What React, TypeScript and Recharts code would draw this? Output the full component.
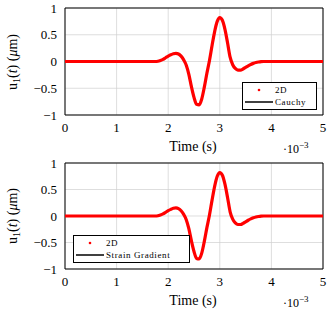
import React from "react";
import {
  LineChart,
  Line,
  XAxis,
  YAxis,
  CartesianGrid,
  ReferenceArea,
} from "recharts";

// time in units of 10^-3 s
const times = [
  0, 0.5, 1, 1.5, 1.75, 1.8, 1.85, 1.9, 1.95, 2.0, 2.05, 2.1, 2.15, 2.2, 2.25,
  2.3, 2.35, 2.4, 2.45, 2.5, 2.55, 2.6, 2.65, 2.7, 2.75, 2.8, 2.85, 2.9, 2.95,
  3.0, 3.05, 3.1, 3.15, 3.2, 3.25, 3.3, 3.35, 3.4, 3.45, 3.5, 3.55, 3.6, 3.65,
  3.7, 3.75, 3.8, 3.85, 4, 4.5, 5,
];
const u2D = [
  0, 0, 0, 0, 0, 0.005, 0.02, 0.04, 0.07, 0.1, 0.125, 0.145, 0.152, 0.14, 0.1,
  0.03, -0.07, -0.24, -0.47, -0.67, -0.8, -0.81, -0.7, -0.48, -0.22, 0.02, 0.3,
  0.56, 0.75, 0.82, 0.77, 0.6, 0.35, 0.08, -0.06, -0.13, -0.16, -0.16, -0.14,
  -0.11, -0.08, -0.055, -0.035, -0.02, -0.01, -0.003, 0, 0, 0, 0,
];
// reference solutions overlap the 2D result
const uCauchy = u2D.slice();
const uStrain = u2D.slice();

const xTicks = [0, 1, 2, 3, 4, 5];
const yTicks = [-1, -0.5, 0, 0.5, 1];

const serif = "'Liberation Serif', 'DejaVu Serif', serif";

const makeData = (ref: number[]) =>
  times.map((t, i) => ({ t, d2: u2D[i], ref: ref[i] }));

const fmt = (v: number) => String(v).replace("-", "\u2212");

const LegendBox = ({ label, width }: { label: string; width: number }) => (
  <div
    style={{
      width,
      border: "1px solid #000",
      background: "#fff",
      fontFamily: serif,
      fontSize: 9,
      letterSpacing: 0.6,
      padding: "1px 0",
      lineHeight: "12px",
    }}
  >
    <div style={{ display: "flex", alignItems: "center" }}>
      <svg width={32} height={12}>
        <circle cx={16} cy={6} r={1.3} fill="#ff0000" />
      </svg>
      <span>2D</span>
    </div>
    <div style={{ display: "flex", alignItems: "center" }}>
      <svg width={32} height={12}>
        <line x1={2} x2={30} y1={6} y2={6} stroke="#000" strokeWidth={1.5} />
      </svg>
      <span>{label}</span>
    </div>
  </div>
);

const Panel = ({
  top,
  plotTop,
  plotBottom,
  refData,
  label,
  legendPos,
  legendWidth,
}: {
  top: number;
  plotTop: number;
  plotBottom: number;
  refData: number[];
  label: string;
  legendPos: { left: number; top: number };
  legendWidth: number;
}) => {
  const h = 157;
  const axisH = 22;
  return (
    <div style={{ position: "absolute", left: 0, top, width: 332, height: h }}>
      <LineChart
        width={332}
        height={h}
        data={makeData(refData)}
        margin={{ top: plotTop, right: 9, left: 0, bottom: h - plotBottom - axisH }}
      >
        <CartesianGrid stroke="#d0d0d0" strokeWidth={0.7} />
        <XAxis
          dataKey="t"
          type="number"
          domain={[0, 5]}
          ticks={xTicks}
          interval={0}
          height={axisH}
          tickLine={false}
          axisLine={false}
          tick={{ fill: "#000", fontSize: 13, fontFamily: serif }}
          tickMargin={2}
        />
        <YAxis
          type="number"
          domain={[-1, 1]}
          ticks={yTicks}
          interval={0}
          width={65}
          tickLine={false}
          axisLine={false}
          tickFormatter={fmt}
          tick={{ fill: "#000", fontSize: 13, fontFamily: serif }}
          tickMargin={2}
        />
        <ReferenceArea
          x1={0}
          x2={5}
          y1={-1}
          y2={1}
          stroke="#000"
          strokeWidth={1}
          fill="none"
          fillOpacity={0}
        />
        <Line
          dataKey="ref"
          type="monotone"
          stroke="#000"
          strokeWidth={1}
          dot={false}
          isAnimationActive={false}
        />
        <Line
          dataKey="d2"
          type="monotone"
          stroke="#ff0000"
          strokeWidth={3.2}
          dot={false}
          isAnimationActive={false}
        />
      </LineChart>
      <div style={{ position: "absolute", left: legendPos.left, top: legendPos.top }}>
        <LegendBox label={label} width={legendWidth} />
      </div>
      <div
        style={{
          position: "absolute",
          left: 13 - 50,
          top: (plotTop + plotBottom) / 2 - 9,
          width: 100,
          height: 18,
          transform: "rotate(-90deg)",
          textAlign: "center",
          fontFamily: serif,
          fontSize: 14,
          lineHeight: "18px",
          whiteSpace: "nowrap",
        }}
      >
        u<span style={{ fontSize: 10, position: "relative", top: 3 }}>1</span>(<i>t</i>) (<i>μ</i>m)
      </div>
      <div
        style={{
          position: "absolute",
          left: 143,
          width: 100,
          top: plotBottom + 23,
          textAlign: "center",
          fontFamily: serif,
          fontSize: 14,
          lineHeight: "18px",
        }}
      >
        Time (s)
      </div>
      <div
        style={{
          position: "absolute",
          left: 283,
          top: plotBottom + 26,
          fontFamily: serif,
          fontSize: 12,
          lineHeight: "16px",
          whiteSpace: "nowrap",
        }}
      >
        ·10<sup style={{ fontSize: 9, lineHeight: 0, verticalAlign: "5px" }}>−3</sup>
      </div>
    </div>
  );
};

export default function App() {
  return (
    <div
      style={{
        position: "absolute",
        left: 0,
        top: 0,
        width: 332,
        height: 314,
        background: "#fff",
      }}
    >
      <Panel
        top={0}
        plotTop={8}
        plotBottom={115}
        refData={uCauchy}
        label="Cauchy"
        legendPos={{ left: 242, top: 82 }}
        legendWidth={73}
      />
      <Panel
        top={157}
        plotTop={6}
        plotBottom={112}
        refData={uStrain}
        label="Strain Gradient"
        legendPos={{ left: 73, top: 78 }}
        legendWidth={115}
      />
    </div>
  );
}
